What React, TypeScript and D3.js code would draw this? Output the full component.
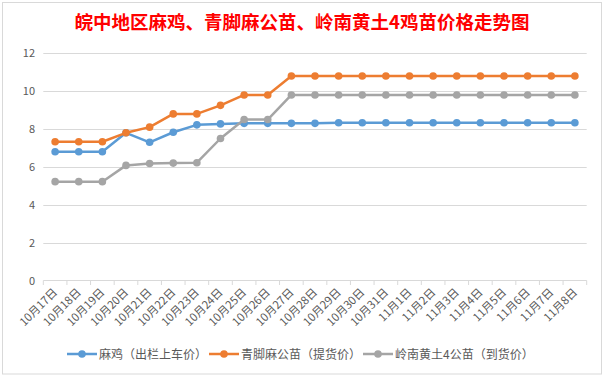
import React from "react";
import * as d3 from "d3";

const categories = [
  "10月17日", "10月18日", "10月19日", "10月20日", "10月21日", "10月22日", "10月23日",
  "10月24日", "10月25日", "10月26日", "10月27日", "10月28日", "10月29日", "10月30日",
  "10月31日", "11月1日", "11月2日", "11月3日", "11月4日", "11月5日", "11月6日", "11月7日", "11月8日",
];
const maji = [6.8, 6.8, 6.8, 7.8, 7.3, 7.83, 8.22, 8.27, 8.3, 8.3, 8.3, 8.3, 8.33, 8.33, 8.33, 8.33, 8.33, 8.33, 8.33, 8.33, 8.33, 8.33, 8.33];
const qingjiao = [7.33, 7.33, 7.33, 7.8, 8.1, 8.8, 8.8, 9.25, 9.8, 9.8, 10.8, 10.8, 10.8, 10.8, 10.8, 10.8, 10.8, 10.8, 10.8, 10.8, 10.8, 10.8, 10.8];
const lingnan = [5.22, 5.22, 5.22, 6.08, 6.18, 6.2, 6.22, 7.5, 8.5, 8.5, 9.8, 9.8, 9.8, 9.8, 9.8, 9.8, 9.8, 9.8, 9.8, 9.8, 9.8, 9.8, 9.8];
const seriesNames = ["麻鸡（出栏上车价）", "青脚麻公苗（提货价）", "岭南黄土4公苗（到货价）"];
const seriesColors = ["#5B9BD5", "#ED7D31", "#A5A5A5"];
const yTicks = [0, 2, 4, 6, 8, 10, 12];
const title = "皖中地区麻鸡、青脚麻公苗、岭南黄土4鸡苗价格走势图";

const W = 604, H = 377;
const FONT = "'Noto Sans CJK SC', 'Microsoft YaHei', sans-serif";

export default function App() {
  const x = d3.scaleBand<string>().domain(categories).range([43.3, 586.7]);
  const y = d3.scaleLinear().domain([0, 12]).range([280.5, 53.3]);
  const cx = (c: string) => (x(c) as number) + x.bandwidth() / 2;
  const series = [maji, qingjiao, lingnan];
  const line = d3.line<number>().x((_, i) => cx(categories[i])).y((d) => y(d));
  const legendX = [67, 209, 363];

  return (
    <svg width={W} height={H} style={{ position: "absolute", left: 0, top: 0, display: "block" }}>
      <rect x={0} y={0} width={W} height={H} fill="#ffffff" />
      <rect x={2.5} y={2.5} width={599} height={371.5} fill="#ffffff" stroke="#d9d9d9" strokeWidth={1} />
      <text x={302} y={29} textAnchor="middle" fill="#ff0000" fontSize={18.5} fontWeight="bold" fontFamily={FONT}>
        {title}
      </text>
      {yTicks.map((t) => (
        <g key={t}>
          {t > 0 && (
            <line x1={43.3} x2={586.7} y1={Math.round(y(t)) + 0.5} y2={Math.round(y(t)) + 0.5} stroke="#d9d9d9" strokeWidth={1} />
          )}
          <text x={35} y={y(t) + 4} textAnchor="end" fontSize={11} fill="#595959" fontFamily={FONT}>
            {t}
          </text>
        </g>
      ))}
      <line x1={43.3} x2={586.7} y1={280.5} y2={280.5} stroke="#d9d9d9" strokeWidth={1} />
      {categories.concat(["end"]).map((c, i) => {
        const xx = 43.3 + i * x.bandwidth();
        return <line key={"t" + i} x1={xx} x2={xx} y1={280.5} y2={285} stroke="#d9d9d9" strokeWidth={1} />;
      })}
      {categories.map((c) => (
        <text
          key={c}
          transform={`translate(${cx(c) + 3},${293}) rotate(-45)`}
          textAnchor="end"
          fontSize={11.3}
          fill="#595959"
          fontFamily={FONT}
        >
          {c}
        </text>
      ))}
      {series.map((s, k) => (
        <g key={k}>
          <path d={line(s) as string} fill="none" stroke={seriesColors[k]} strokeWidth={2.5} strokeLinejoin="round" />
          {s.map((v, i) => (
            <circle key={i} cx={cx(categories[i])} cy={y(v)} r={3.8} fill={seriesColors[k]} />
          ))}
        </g>
      ))}
      {seriesNames.map((n, k) => (
        <g key={n}>
          <line x1={legendX[k]} x2={legendX[k] + 30} y1={354} y2={354} stroke={seriesColors[k]} strokeWidth={2.5} />
          <circle cx={legendX[k] + 15} cy={354} r={3.8} fill={seriesColors[k]} />
          <text x={legendX[k] + 32} y={358.5} fontSize={12} fill="#595959" fontFamily={FONT}>
            {n}
          </text>
        </g>
      ))}
    </svg>
  );
}
